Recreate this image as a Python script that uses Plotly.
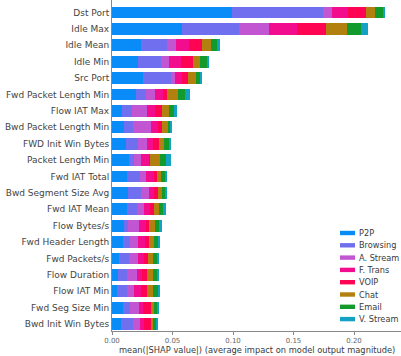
import plotly.graph_objects as go

# Features, most important first
features = [
    "Dst Port", "Idle Max", "Idle Mean", "Idle Min", "Src Port",
    "Fwd Packet Length Min", "Flow IAT Max", "Bwd Packet Length Min",
    "FWD Init Win Bytes", "Packet Length Min", "Fwd IAT Total",
    "Bwd Segment Size Avg", "Fwd IAT Mean", "Flow Bytes/s",
    "Fwd Header Length", "Fwd Packets/s", "Flow Duration", "Flow IAT Min",
    "Fwd Seg Size Min", "Bwd Init Win Bytes",
]

classes = ["P2P", "Browsing", "A. Stream", "F. Trans", "VOIP", "Chat", "Email", "V. Stream"]

# mean(|SHAP value|) per class, in feature order
p2p = [0.0989, 0.0576, 0.0240, 0.0212, 0.0259, 0.0198, 0.0080, 0.0099, 0.0116, 0.0143,
       0.0121, 0.0135, 0.0121, 0.0099, 0.0088, 0.0060, 0.0052, 0.0039, 0.0088, 0.0072]
browsing = [0.0752, 0.0476, 0.0212, 0.0190, 0.0229, 0.0080, 0.0083, 0.0077, 0.0102, 0.0041,
            0.0110, 0.0102, 0.0088, 0.0036, 0.0060, 0.0083, 0.0069, 0.0088, 0.0060, 0.0104]
a_stream = [0.0074, 0.0245, 0.0077, 0.0071, 0.0033, 0.0077, 0.0129, 0.0146, 0.0069, 0.0053,
            0.0050, 0.0071, 0.0058, 0.0091, 0.0064, 0.0069, 0.0083, 0.0058, 0.0077, 0.0055]
f_trans = [0.0137, 0.0234, 0.0110, 0.0097, 0.0055, 0.0069, 0.0064, 0.0060, 0.0055, 0.0069,
           0.0074, 0.0041, 0.0047, 0.0055, 0.0060, 0.0055, 0.0041, 0.0053, 0.0028, 0.0036]
voip = [0.0146, 0.0237, 0.0107, 0.0097, 0.0055, 0.0028, 0.0055, 0.0028, 0.0047, 0.0008,
        0.0014, 0.0033, 0.0033, 0.0027, 0.0036, 0.0028, 0.0041, 0.0050, 0.0069, 0.0055]
chat = [0.0074, 0.0171, 0.0072, 0.0060, 0.0061, 0.0096, 0.0063, 0.0055, 0.0044, 0.0083,
        0.0033, 0.0028, 0.0044, 0.0047, 0.0041, 0.0041, 0.0050, 0.0050, 0.0027, 0.0019]
email = [0.0064, 0.0116, 0.0052, 0.0055, 0.0036, 0.0055, 0.0039, 0.0020, 0.0039, 0.0050,
         0.0044, 0.0036, 0.0033, 0.0041, 0.0033, 0.0038, 0.0038, 0.0038, 0.0025, 0.0028]
v_stream = [0.0019, 0.0058, 0.0022, 0.0019, 0.0017, 0.0041, 0.0027, 0.0008, 0.0017, 0.0039,
            0.0006, 0.0006, 0.0020, 0.0014, 0.0008, 0.0014, 0.0017, 0.0017, 0.0012, 0.0005]

series = [p2p, browsing, a_stream, f_trans, voip, chat, email, v_stream]
colors = ["#0a8cf8", "#6f6ff0", "#c155d2", "#f20c8e", "#ff0452", "#b2800f", "#139a2c", "#13a2c4"]

x_ticks = [0.00, 0.05, 0.10, 0.15, 0.20]
x_title = "mean(|SHAP value|) (average impact on model output magnitude)"

FONT = "DejaVu Sans"
W, H = 401, 356
L, R, T, B = 112, 0, 0, 25
PW, PH = W - L - R, H - T - B


def py(px):
    """Pixel row from the top -> paper y."""
    return 1 - (px - T) / PH


def px_(px):
    """Pixel column from the left -> paper x."""
    return (px - L) / PW


fig = go.Figure()
rows = list(range(len(features)))
for name, vals, col in zip(classes, series, colors):
    fig.add_trace(go.Bar(
        y=rows, x=vals, orientation="h", name=name,
        marker=dict(color=col, line=dict(width=0)),
        width=0.72, showlegend=False,
    ))

# Legend: thin colour strips with labels, lower right
leg_x0, leg_x1, leg_tx = 340, 355, 357
leg_y0, leg_dy = 233, 12.3
shapes, annotations = [], []
for k, (name, col) in enumerate(zip(classes, colors)):
    yc = leg_y0 + k * leg_dy
    shapes.append(dict(
        type="rect", xref="paper", yref="paper",
        x0=px_(leg_x0), x1=px_(leg_x1), y0=py(yc - 2.2), y1=py(yc + 2.2),
        fillcolor=col, line=dict(width=0),
    ))
    annotations.append(dict(
        xref="paper", yref="paper", x=px_(leg_tx), y=py(yc),
        text=name, showarrow=False, xanchor="left", yanchor="middle",
        font=dict(family=FONT, size=8.2, color="#3a3a3a"),
    ))

# x-axis title below the tick labels
annotations.append(dict(
    xref="paper", yref="paper", x=0.5, y=py(349.5),
    text=x_title, showarrow=False, xanchor="center", yanchor="middle",
    font=dict(family=FONT, size=8.3, color="#3a3a3a"),
))

fig.update_layout(
    width=W, height=H,
    margin=dict(l=L, r=R, t=T, b=B, pad=0),
    barmode="stack", bargap=0,
    plot_bgcolor="white", paper_bgcolor="white",
    font=dict(family=FONT, color="#3a3a3a"),
    shapes=shapes, annotations=annotations,
    xaxis=dict(
        range=[0, PW / 1210],
        tickvals=x_ticks, ticktext=[f"{v:.2f}" for v in x_ticks],
        tickfont=dict(size=7, color="#666666"),
        ticks="outside", ticklen=3, tickcolor="#888888", tickwidth=1,
        showgrid=False, zeroline=False,
        showline=True, linecolor="#888888", linewidth=1,
        automargin=False,
    ),
    yaxis=dict(
        tickvals=rows, ticktext=features,
        range=[19.42, -0.762],
        tickfont=dict(size=9, color="#444444"),
        ticks="", showgrid=False, zeroline=False,
        showline=True, linecolor="#888888", linewidth=1,
        automargin=False,
    ),
)

fig.write_html("out.html")
